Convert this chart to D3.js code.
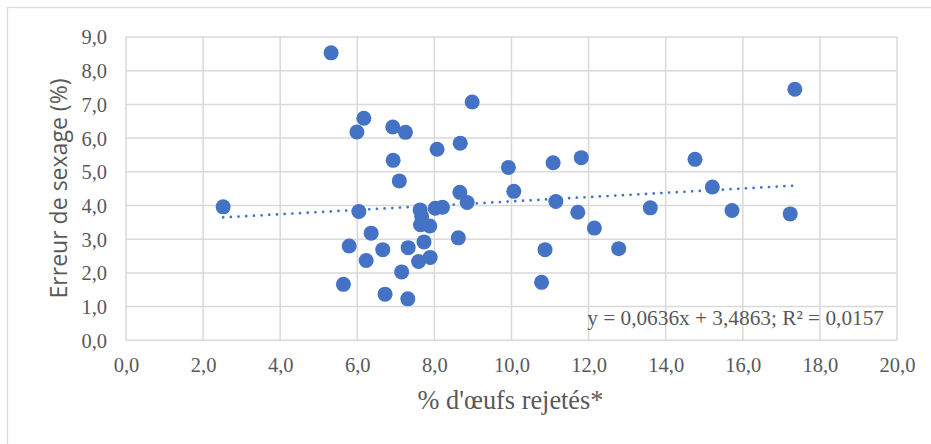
<!DOCTYPE html>
<html>
<head>
<meta charset="utf-8">
<script src="https://cdn.jsdelivr.net/npm/d3@7"></script>
<style>
  body { margin: 0; background: #fff; }
  svg { display: block; }
</style>
</head>
<body>
<div id="chart"></div>
<script>
// Data
const rejected = [2.52, 5.32, 5.64, 5.79, 5.99, 6.04, 6.17, 6.23, 6.36, 6.66, 6.72, 6.92, 6.93, 7.09, 7.15, 7.25, 7.31, 7.32, 7.59, 7.63, 7.67, 7.64, 7.73, 7.88, 7.89, 8.02, 8.07, 8.21, 8.62, 8.66, 8.67, 8.85, 8.98, 9.92, 10.06, 10.78, 10.87, 11.08, 11.15, 11.72, 11.81, 12.15, 12.78, 13.60, 14.76, 15.21, 15.72, 17.23, 17.35];
const sexError = [3.96, 8.53, 1.66, 2.80, 6.18, 3.82, 6.59, 2.37, 3.18, 2.69, 1.37, 6.33, 5.34, 4.73, 2.03, 6.17, 1.23, 2.75, 2.34, 3.87, 3.68, 3.43, 2.92, 3.39, 2.46, 3.92, 5.67, 3.95, 3.04, 4.39, 5.85, 4.09, 7.07, 5.13, 4.42, 1.72, 2.69, 5.27, 4.12, 3.80, 5.42, 3.33, 2.72, 3.93, 5.37, 4.55, 3.85, 3.75, 7.45];
const xTicks = [0, 2, 4, 6, 8, 10, 12, 14, 16, 18, 20];
const yTicks = [0, 1, 2, 3, 4, 5, 6, 7, 8, 9];
const slope = 0.0636, intercept = 3.4863;
const equation = 'y = 0,0636x + 3,4863; R² = 0,0157';

const W = 931, H = 444;
const grey = '#595959', gridColor = '#d9d9d9', blue = '#4472c4';
const serif = '"Liberation Serif", "Times New Roman", serif';
const fmt = d => d.toFixed(1).replace('.', ',');

const svg = d3.select('#chart').append('svg')
    .attr('width', W)
    .attr('height', H);

// Chart area border
svg.append('rect')
    .attr('x', 7.5).attr('y', 7.5)
    .attr('width', 960).attr('height', 460)
    .attr('fill', '#fff')
    .attr('stroke', gridColor)
    .attr('stroke-width', 1.25);

const x = d3.scaleLinear().domain([0, 20]).range([126, 897]);
const y = d3.scaleLinear().domain([0, 9]).range([340.3, 37]);

// Gridlines
svg.append('g').selectAll('line')
    .data(xTicks)
    .join('line')
    .attr('x1', d => x(d)).attr('x2', d => x(d))
    .attr('y1', y(0)).attr('y2', y(9))
    .attr('stroke', gridColor)
    .attr('stroke-width', 1.5);

svg.append('g').selectAll('line')
    .data(yTicks)
    .join('line')
    .attr('x1', x(0)).attr('x2', x(20))
    .attr('y1', d => y(d)).attr('y2', d => y(d))
    .attr('stroke', gridColor)
    .attr('stroke-width', 1.5);

// Axes (labels only)
const xAxis = d3.axisBottom(x).tickValues(xTicks).tickFormat(fmt).tickSize(0).tickPadding(0);
const yAxis = d3.axisLeft(y).tickValues(yTicks).tickFormat(fmt).tickSize(0).tickPadding(0);

const gx = svg.append('g')
    .attr('transform', `translate(0,${y(0)})`)
    .call(xAxis);
gx.select('.domain').remove();
gx.selectAll('text')
    .attr('dy', null)
    .attr('y', 31.5)
    .attr('fill', grey)
    .style('font-family', serif)
    .style('font-size', '20.5px');

const gy = svg.append('g')
    .attr('transform', `translate(107,0)`)
    .call(yAxis);
gy.select('.domain').remove();
gy.selectAll('text')
    .attr('dy', '0.34em')
    .attr('x', 0)
    .attr('fill', grey)
    .style('font-family', serif)
    .style('font-size', '20.5px');

// Trendline
const [xmin, xmax] = d3.extent(rejected);
svg.append('line')
    .attr('x1', x(xmin)).attr('y1', y(slope * xmin + intercept))
    .attr('x2', x(xmax)).attr('y2', y(slope * xmax + intercept))
    .attr('stroke', blue)
    .attr('stroke-width', 2.75)
    .attr('stroke-linecap', 'round')
    .attr('stroke-dasharray', '0 7.7');

// Points
svg.append('g').selectAll('circle')
    .data(rejected.map((v, i) => [v, sexError[i]]))
    .join('circle')
    .attr('cx', d => x(d[0]))
    .attr('cy', d => y(d[1]))
    .attr('r', 7.5)
    .attr('fill', blue);

// Trendline equation
svg.append('text')
    .attr('x', 884).attr('y', 325)
    .attr('text-anchor', 'end')
    .attr('fill', grey)
    .style('font-family', serif)
    .style('font-size', '21.3px')
    .text(equation);

// Axis titles
svg.append('text')
    .attr('x', 510.5).attr('y', 408.5)
    .attr('text-anchor', 'middle')
    .attr('fill', grey)
    .style('font-family', serif)
    .style('font-size', '26.3px')
    .text("% d'œufs rejetés*");

svg.append('text')
    .attr('transform', `translate(67,188.5) rotate(-90)`)
    .attr('x', -110)
    .attr('textLength', 220)
    .attr('lengthAdjust', 'spacingAndGlyphs')
    .attr('fill', grey)
    .style('font-family', '"Open Sans", Lato, sans-serif')
    .style('font-size', '24px')
    .text('Erreur de sexage (%)');
</script>
</body>
</html>
